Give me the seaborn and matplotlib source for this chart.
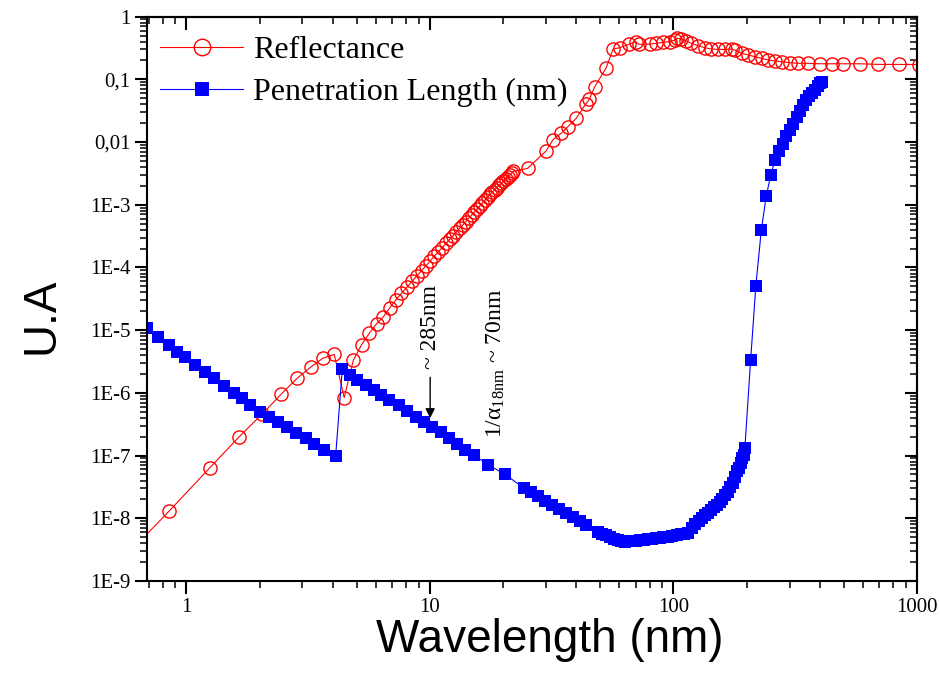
import numpy as np
import pandas as pd
import matplotlib
matplotlib.use("Agg")
import matplotlib.pyplot as plt
import seaborn as sns
from matplotlib.ticker import FixedLocator, LogLocator, NullFormatter

# ---------------- data ----------------
refl_wavelength = [0.45, 0.85, 1.25, 1.65, 2.05, 2.45, 2.85, 3.25, 3.65, 4.05,
                   4.45, 4.85, 5.25, 5.65, 6.05, 6.45, 6.85, 7.25, 7.65, 8.05,
                   8.45, 8.85, 9.25, 9.65, 10.05, 10.45, 10.85, 11.25, 11.65, 12.05,
                   12.45, 12.85, 13.25, 13.65, 14.05, 14.45, 14.85, 15.25, 15.65, 16.05,
                   16.45, 16.85, 17.25, 17.65, 18.05, 18.45, 18.85, 19.25, 19.65, 20.05,
                   20.45, 20.85, 21.25, 21.65, 22.05, 25.2, 30.0, 32.0, 34.6, 36.9,
                   39.9, 43.6, 45.2, 47.5, 53.0, 56.5, 60.1, 65.5, 70.0, 72.3,
                   79.9, 85.1, 90.7, 96.6, 101.2, 103.8, 107.9, 113.0, 118.5, 126.4,
                   134.6, 143.3, 152.8, 162.6, 173.3, 178.8, 190.5, 203.0, 216.0, 230.0,
                   245.3, 261.0, 278.0, 301.0, 326.0, 358.0, 400.0, 447.0, 499.0, 585.0,
                   695.0, 841.0, 1020.0]
refl_value = [1.0e-9, 1.3e-8, 6.4e-8, 2.0e-7, 4.6e-7, 9.5e-7, 1.7e-6, 2.6e-6, 3.6e-6, 4.1e-6,
              8.4e-7, 3.3e-6, 5.9e-6, 9.0e-6, 1.27e-5, 1.64e-5, 2.28e-5, 3.03e-5, 3.86e-5, 4.83e-5,
              5.98e-5, 7.35e-5, 8.93e-5, 1.07e-4, 1.28e-4, 1.52e-4, 1.79e-4, 2.08e-4, 2.42e-4, 2.80e-4,
              3.21e-4, 3.68e-4, 4.19e-4, 4.74e-4, 5.39e-4, 6.11e-4, 6.85e-4, 7.71e-4, 8.64e-4, 9.60e-4,
              1.07e-3, 1.19e-3, 1.32e-3, 1.46e-3, 1.59e-3, 1.73e-3, 1.88e-3, 2.04e-3, 2.20e-3, 2.38e-3,
              2.56e-3, 2.75e-3, 2.96e-3, 3.18e-3, 3.41e-3, 3.8e-3, 7.2e-3, 1.08e-2, 1.38e-2, 1.76e-2,
              2.39e-2, 4.0e-2, 4.85e-2, 7.6e-2, 0.153, 0.304, 0.319, 0.361, 0.398, 0.361,
              0.365, 0.375, 0.389, 0.398, 0.424, 0.451, 0.44, 0.408, 0.375, 0.344,
              0.319, 0.304, 0.30, 0.30, 0.304, 0.293, 0.26, 0.244, 0.23, 0.216,
              0.203, 0.196, 0.191, 0.184, 0.18, 0.18, 0.177, 0.177, 0.177, 0.177,
              0.173, 0.173, 0.172]

pen_wavelength = [0.689, 0.769, 0.846, 0.915, 0.991, 1.089, 1.197, 1.295, 1.424, 1.565,
                  1.695, 1.834, 2.016, 2.182, 2.384, 2.597, 2.809, 3.088, 3.341, 3.673,
                  4.104, 4.37, 4.69, 5.04, 5.45, 5.90, 6.28, 6.79, 7.46, 8.09,
                  8.75, 9.47, 10.24, 11.08, 11.96, 12.93, 13.98, 15.17, 17.4, 20.4,
                  24.4, 26.0, 27.7, 29.7, 31.8, 34.0, 36.3, 38.7, 41.2, 43.9,
                  49, 51, 53, 55, 57, 59, 61, 63, 65, 67,
                  70, 73, 76, 79, 82, 85, 88, 91, 95, 99,
                  103, 107, 111, 115, 119, 123, 127, 131, 135, 139,
                  143, 147, 151, 155, 159, 163, 167, 171, 175, 179,
                  183, 186, 189, 192, 194, 196.5, 207.5, 218, 229.6, 240.6,
                  251, 261, 271, 281, 291, 301, 311, 321, 331, 341,
                  351, 361, 371, 381, 391, 401, 408]
pen_value = [1.07e-5, 7.85e-6, 5.78e-6, 4.53e-6, 3.68e-6, 2.77e-6, 2.17e-6, 1.70e-6, 1.28e-6, 1.00e-6,
             8.17e-7, 6.38e-7, 5.00e-7, 4.16e-7, 3.46e-7, 2.82e-7, 2.26e-7, 1.88e-7, 1.52e-7, 1.22e-7,
             9.8e-8, 2.37e-6, 1.92e-6, 1.60e-6, 1.33e-6, 1.11e-6, 9.2e-7, 7.7e-7, 6.4e-7, 5.2e-7,
             4.16e-7, 3.46e-7, 2.88e-7, 2.37e-7, 1.88e-7, 1.52e-7, 1.25e-7, 1.02e-7, 7.06e-8, 5.0e-8,
             3.0e-8, 2.59e-8, 2.23e-8, 1.91e-8, 1.64e-8, 1.40e-8, 1.21e-8, 1.04e-8, 9.0e-9, 7.8e-9,
             6.09e-9, 5.68e-9, 5.33e-9, 5.01e-9, 4.76e-9, 4.57e-9, 4.39e-9, 4.25e-9, 4.30e-9, 4.33e-9,
             4.39e-9, 4.46e-9, 4.54e-9, 4.62e-9, 4.73e-9, 4.82e-9, 4.91e-9, 4.98e-9, 5.09e-9, 5.20e-9,
             5.33e-9, 5.52e-9, 5.70e-9, 5.92e-9, 6.98e-9, 8.24e-9, 9.19e-9, 1.02e-8, 1.12e-8, 1.20e-8,
             1.34e-8, 1.49e-8, 1.65e-8, 1.83e-8, 2.06e-8, 2.32e-8, 2.66e-8, 3.10e-8, 3.67e-8, 4.51e-8,
             5.62e-8, 6.44e-8, 7.73e-8, 9.12e-8, 1.04e-7, 1.32e-7, 3.3e-6, 5.1e-5, 3.96e-4, 1.38e-3,
             2.98e-3, 5.16e-3, 7.21e-3, 9.40e-3, 1.26e-2, 1.58e-2, 1.97e-2, 2.51e-2, 3.13e-2, 3.88e-2,
             4.63e-2, 5.34e-2, 6.05e-2, 6.88e-2, 7.82e-2, 8.73e-2, 9.22e-2]

x_ticks = [1, 10, 100, 1000]
x_tick_labels = ["1", "10", "100", "1000"]
y_ticks = [1, 0.1, 0.01, 1e-3, 1e-4, 1e-5, 1e-6, 1e-7, 1e-8, 1e-9]
y_tick_labels = ["1", "0,1", "0,01", "1E-3", "1E-4", "1E-5", "1E-6", "1E-7", "1E-8", "1E-9"]

series_labels = ["Reflectance", "Penetration Length (nm)"]
x_label = "Wavelength (nm)"
y_label = "U.A"
note_arrow = "~ 285nm"
note_alpha = "1/\u03b1$_{\\mathrm{18nm}}$ ~ 70nm"

# ---------------- style ----------------
sns.set_theme(style="ticks")
plt.rcParams["font.family"] = ["Liberation Serif", "DejaVu Serif"]
plt.rcParams["mathtext.fontset"] = "custom"
plt.rcParams["mathtext.rm"] = "Liberation Serif"
plt.rcParams["mathtext.it"] = "Liberation Serif:italic"
plt.rcParams["mathtext.bf"] = "Liberation Serif:bold"
for key in ["text.color", "axes.labelcolor", "xtick.color", "ytick.color", "axes.edgecolor"]:
    plt.rcParams[key] = "black"

sans = ["Liberation Sans", "DejaVu Sans"]

fig = plt.figure(figsize=(9.4, 6.73), dpi=100)
ax = fig.add_axes([0.1564, 0.1367, 0.8191, 0.8386])
ax.set_facecolor("white")

refl_df = pd.DataFrame({"wavelength": refl_wavelength, "value": refl_value})
pen_df = pd.DataFrame({"wavelength": pen_wavelength, "value": pen_value})

sns.lineplot(data=refl_df, x="wavelength", y="value", ax=ax, sort=False, estimator=None,
             color="#ff0000", linewidth=0.8, marker="o", markersize=9.5,
             markerfacecolor="none", markeredgecolor="#ff0000", markeredgewidth=1.0,
             label=series_labels[0])
sns.lineplot(data=pen_df, x="wavelength", y="value", ax=ax, sort=False, estimator=None,
             color="#0000ff", linewidth=0.8, marker="s", markersize=8,
             markerfacecolor="#0000ff", markeredgecolor="#0000ff", markeredgewidth=0,
             label=series_labels[1])

ax.set_xscale("log")
ax.set_yscale("log")
ax.set_xlim(0.69, 1000)
ax.set_ylim(1e-9, 1)

ax.xaxis.set_major_locator(FixedLocator(x_ticks))
ax.set_xticklabels(x_tick_labels)
ax.xaxis.set_minor_locator(LogLocator(base=10, subs=np.arange(2, 10), numticks=100))
ax.xaxis.set_minor_formatter(NullFormatter())
ax.yaxis.set_major_locator(FixedLocator(y_ticks))
ax.set_yticklabels(y_tick_labels)
ax.yaxis.set_minor_locator(LogLocator(base=10, subs=np.arange(2, 10), numticks=100))
ax.yaxis.set_minor_formatter(NullFormatter())

for s in ax.spines.values():
    s.set_linewidth(1.5)
    s.set_color("black")
    s.set_visible(True)

ax.tick_params(which="major", direction="out", length=9, width=1.5, colors="black",
               labelsize=15, top=False, right=False, pad=3)
ax.tick_params(which="minor", direction="out", length=5, width=1.1, colors="black",
               top=False, right=False)

# mirrored top / right axes with inward ticks
secx = ax.secondary_xaxis("top")
secx.xaxis.set_major_locator(FixedLocator(x_ticks))
secx.xaxis.set_minor_locator(LogLocator(base=10, subs=np.arange(2, 10), numticks=100))
secx.xaxis.set_major_formatter(NullFormatter())
secx.xaxis.set_minor_formatter(NullFormatter())
secx.tick_params(which="major", direction="in", length=9, width=1.5, colors="black")
secx.tick_params(which="minor", direction="in", length=5, width=1.1, colors="black")
secx.spines["top"].set_linewidth(1.5)

secy = ax.secondary_yaxis("right")
secy.yaxis.set_major_locator(FixedLocator(y_ticks))
secy.yaxis.set_minor_locator(LogLocator(base=10, subs=np.arange(2, 10), numticks=100))
secy.yaxis.set_major_formatter(NullFormatter())
secy.yaxis.set_minor_formatter(NullFormatter())
secy.tick_params(which="major", direction="in", length=9, width=1.5, colors="black")
secy.tick_params(which="minor", direction="in", length=5, width=1.1, colors="black")
secy.spines["right"].set_linewidth(1.5)

ax.set_xlabel(x_label, fontsize=33, family=sans, color="black")
ax.set_ylabel(y_label, fontsize=33, family=sans, color="black")
ax.xaxis.set_label_coords(0.523, -0.066)
ax.yaxis.set_label_coords(-0.108, 0.47)

leg = ax.legend(loc="upper left", bbox_to_anchor=(0.017, 0.966), frameon=False,
                prop={"family": "Liberation Serif", "size": 23}, handlelength=2.6,
                handletextpad=0.3, labelspacing=0.4, borderpad=0, borderaxespad=0,
                markerscale=1.25)
for t in leg.get_texts():
    t.set_color("black")

ax.annotate("", xy=(10.03, 3.96e-7), xytext=(10.03, 1.77e-6),
            arrowprops=dict(arrowstyle="-|>", color="black", lw=1.0,
                            mutation_scale=14, shrinkA=0, shrinkB=0))
ax.text(10.03, 1.12e-5, note_arrow, rotation=90, ha="center", va="center",
        fontsize=17, family="Liberation Serif", color="black")
ax.text(18.7, 2.93e-6, note_alpha, rotation=90, ha="center", va="center",
        fontsize=17, family="Liberation Serif", color="black")

fig.savefig("out.png", dpi=100)
